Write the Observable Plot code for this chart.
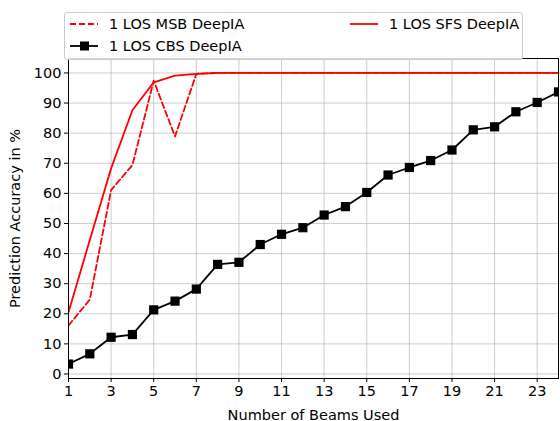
<!DOCTYPE html>
<html><head><meta charset="utf-8">
<script src="https://cdn.jsdelivr.net/npm/d3@7"></script>
<script src="https://cdn.jsdelivr.net/npm/@observablehq/plot@0.6"></script>
<style>
body{margin:0;background:#fff;font-family:"DejaVu Sans",sans-serif;}
#wrap{position:relative;width:560px;height:421px;}
#legend{position:absolute;left:64px;top:12px;width:457px;height:46px;border:1px solid #ccc;border-radius:3px;background:rgba(255,255,255,0.85);font-size:14.5px;color:#000;}
.item{position:absolute;display:flex;align-items:center;white-space:nowrap;}
.item svg{margin-right:10px;flex:none;}
</style>
</head><body>
<div id="wrap"><div id="chart"></div><div id="legend"></div></div>
<script>
const beams = [1,2,3,4,5,6,7,8,9,10,11,12,13,14,15,16,17,18,19,20,21,22,23,24];
const msbAcc = [16.1,24.7,61.1,69.4,97.4,78.9,99.7,100,100,100,100,100,100,100,100,100,100,100,100,100,100,100,100,100];
const sfsAcc = [20.5,44.5,68.3,87.6,96.9,99.1,99.7,100,100,100,100,100,100,100,100,100,100,100,100,100,100,100,100,100];
const cbsAcc = [3.3,6.7,12.2,13.1,21.3,24.2,28.2,36.4,37.1,43.0,46.4,48.6,52.8,55.6,60.3,66.1,68.6,70.9,74.4,81.1,82.1,87.1,90.2,93.7];
const xTicks = [1,3,5,7,9,11,13,15,17,19,21,23];
const yTicks = [0,10,20,30,40,50,60,70,80,90,100];
const seriesNames = ["1 LOS MSB DeepIA","1 LOS SFS DeepIA","1 LOS CBS DeepIA"];

const msb = beams.map((b,i)=>({x:b,y:msbAcc[i]}));
const sfs = beams.map((b,i)=>({x:b,y:sfsAcc[i]}));
const cbs = beams.map((b,i)=>({x:b,y:cbsAcc[i]}));

const chart = Plot.plot({
  width:560, height:421,
  marginLeft:68, marginRight:2, marginTop:58, marginBottom:43,
  style:{fontFamily:"DejaVu Sans, sans-serif", fontSize:"14.5px", color:"black", background:"white"},
  x:{domain:[1,24]},
  y:{domain:[-1.5,104.8]},
  marks:[
    Plot.gridX(xTicks,{stroke:"#b0b0b0",strokeOpacity:0.8,strokeWidth:0.8}),
    Plot.gridY(yTicks,{stroke:"#b0b0b0",strokeOpacity:0.8,strokeWidth:0.8}),
    Plot.line(msb,{x:"x",y:"y",stroke:"red",strokeWidth:1.8,strokeDasharray:"6,3",clip:true}),
    Plot.line(sfs,{x:"x",y:"y",stroke:"red",strokeWidth:1.8,clip:true}),
    Plot.line(cbs,{x:"x",y:"y",stroke:"black",strokeWidth:1.8,clip:true}),
    Plot.dot(cbs,{x:"x",y:"y",symbol:"square",fill:"black",stroke:"none",r:5.2,clip:true}),
    Plot.frame({stroke:"black",strokeWidth:1}),
    Plot.axisX({ticks:xTicks,tickSize:4,tickPadding:3,label:"Number of Beams Used",labelAnchor:"center",labelArrow:"none",labelOffset:41}),
    Plot.axisY({ticks:yTicks,tickSize:4,tickPadding:3,label:"Prediction Accuracy in %",labelAnchor:"center",labelArrow:"none",labelOffset:59})
  ]
});
document.getElementById("chart").appendChild(chart);

const legend = document.getElementById("legend");
const entries = [
  {name:seriesNames[0], left:5, top:1, dash:"6,3", color:"red", marker:false},
  {name:seriesNames[1], left:285, top:1, dash:null, color:"red", marker:false},
  {name:seriesNames[2], left:5, top:23, dash:null, color:"black", marker:true}
];
for (const e of entries) {
  const d = document.createElement("div");
  d.className = "item";
  d.style.left = e.left + "px";
  d.style.top = e.top + "px";
  d.style.height = "20px";
  const s = d3.create("svg").attr("width",29).attr("height",20);
  s.append("line").attr("x1",0).attr("x2",28).attr("y1",10).attr("y2",10)
    .attr("stroke",e.color).attr("stroke-width",1.8).attr("stroke-dasharray",e.dash);
  if (e.marker) s.append("rect").attr("x",10).attr("y",5.5).attr("width",9).attr("height",9).attr("fill","black");
  d.appendChild(s.node());
  const t = document.createElement("span");
  t.textContent = e.name;
  d.appendChild(t);
  legend.appendChild(d);
}
</script>
</body></html>
